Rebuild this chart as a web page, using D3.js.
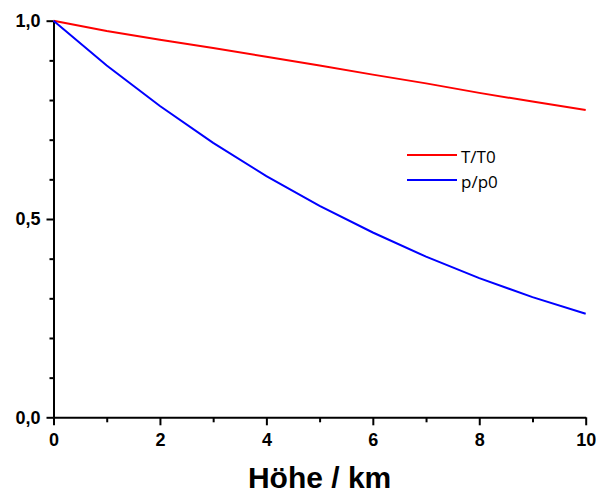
<!DOCTYPE html>
<html>
<head>
<meta charset="utf-8">
<script src="https://cdn.jsdelivr.net/npm/d3@7"></script>
<style>
  body { margin: 0; background: #fff; overflow: hidden; }
  svg { display: block; }
  svg text { font-family: "Liberation Sans", Arial, sans-serif; }
  svg text.legend { font-family: "Open Sans", "Liberation Sans", sans-serif; }
</style>
</head>
<body>
<svg id="chart"></svg>
<script>
// data
const hoehe = [0, 1, 2, 3, 4, 5, 6, 7, 8, 9, 10];
const tRatio = [1.0, 0.974, 0.952, 0.931, 0.909, 0.887, 0.864, 0.842, 0.818, 0.796, 0.775];
const pRatio = [1.0, 0.887, 0.785, 0.692, 0.608, 0.533, 0.466, 0.405, 0.351, 0.303, 0.261];
const xMajor = [0, 2, 4, 6, 8, 10];
const xMinor = [1, 3, 5, 7, 9];
const yMajor = [0, 0.5, 1.0];
const yMinor = [0.1, 0.2, 0.3, 0.4, 0.6, 0.7, 0.8, 0.9];
const seriesNames = ['T/T0', 'p/p0'];

let width = 596
let height = 493

let svg = d3.select('#chart').attr('width', width).attr('height', height)

let xScale = d3.scaleLinear().domain([0, 10]).range([53.5, 585.7])
let yScale = d3.scaleLinear().domain([0, 1]).range([417.3, 20.7])

let fmt = d => d3.format('.1f')(d).replace('.', ',')

// minor ticks
svg.append('g')
  .attr('transform', `translate(0, ${yScale(0)})`)
  .call(d3.axisBottom(xScale).tickValues(xMinor).tickSize(5).tickFormat(''))
  .call(g => g.select('.domain').remove())
  .selectAll('line').attr('stroke', '#000').attr('stroke-width', 2)

svg.append('g')
  .attr('transform', `translate(${xScale(0)}, 0)`)
  .call(d3.axisLeft(yScale).tickValues(yMinor).tickSize(4).tickFormat(''))
  .call(g => g.select('.domain').remove())
  .selectAll('line').attr('stroke', '#000').attr('stroke-width', 2)

// major axes
let xAxis = svg.append('g')
  .attr('transform', `translate(0, ${yScale(0)})`)
  .call(d3.axisBottom(xScale).tickValues(xMajor).tickSize(8).tickSizeOuter(0).tickPadding(8))
xAxis.attr('font-family', null).attr('font-size', null)
xAxis.selectAll('text')
  .style('font-size', '18px').style('font-weight', 'bold').attr('fill', '#000')

let yAxis = svg.append('g')
  .attr('transform', `translate(${xScale(0)}, 0)`)
  .call(d3.axisLeft(yScale).tickValues(yMajor).tickSize(7).tickSizeOuter(0).tickPadding(6).tickFormat(fmt))
yAxis.attr('font-family', null).attr('font-size', null)
yAxis.selectAll('text')
  .style('font-size', '18px').style('font-weight', 'bold').attr('fill', '#000')

svg.selectAll('.domain, .tick line').attr('stroke', '#000').attr('stroke-width', 2)

// lines
let line = d3.line().x((d, i) => xScale(hoehe[i])).y(d => yScale(d))
const colors = ['#ff0000', '#0000ff'];
[tRatio, pRatio].forEach((vals, k) => {
  svg.append('path')
    .datum(vals)
    .attr('d', line)
    .attr('fill', 'none')
    .attr('stroke', colors[k])
    .attr('stroke-width', 2)
})

// legend
seriesNames.forEach((name, k) => {
  let y = 155 + k * 25
  svg.append('line')
    .attr('x1', 407).attr('x2', 457).attr('y1', y).attr('y2', y)
    .attr('stroke', colors[k]).attr('stroke-width', 2)
  svg.append('text')
    .attr('class', 'legend')
    .attr('x', 461).attr('y', y + 7.5)
    .style('font-size', '17px')
    .text(name)
})

// axis title
svg.append('text')
  .attr('x', (xScale(0) + xScale(10)) / 2)
  .attr('y', 488)
  .attr('text-anchor', 'middle')
  .style('font-size', '30px')
  .style('font-weight', 'bold')
  .text('Höhe / km')
</script>
</body>
</html>
